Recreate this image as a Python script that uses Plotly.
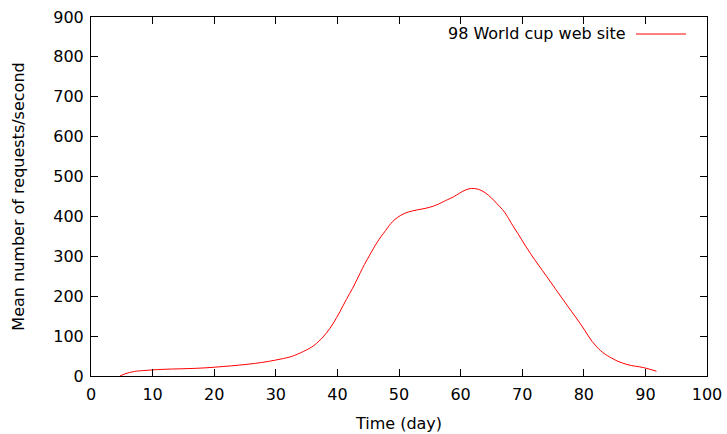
import plotly.graph_objects as go

days = [4.7, 6.3, 9.7, 20, 30, 34, 37.5, 42, 44.8, 47.5, 50.2, 55.6, 58.3, 62.3, 66.4, 68.6, 71.3, 74, 76.7, 79.4, 82.1, 84.5, 87, 89.7, 91.8]
rate = [0, 9, 15, 22, 40, 58, 95, 207, 291, 358, 402, 426, 445, 470, 424, 374, 308, 249, 190, 132, 73, 45, 29, 21, 12]

series_name = "98 World cup web site"
x_ticks = list(range(0, 101, 10))
y_ticks = list(range(0, 901, 100))

font = dict(family="DejaVu Sans", size=16, color="black")

fig = go.Figure()
fig.add_trace(go.Scatter(x=days, y=rate, mode="lines", name=series_name,
                         line=dict(color="red", width=1, shape="spline", smoothing=1.2),
                         showlegend=False))

axis_common = dict(showline=True, linecolor="black", linewidth=1, mirror="ticks",
                   ticks="inside", ticklen=7, tickwidth=1, tickcolor="black",
                   showgrid=False, zeroline=False, tickfont=font, automargin=False)

fig.update_layout(
    width=727, height=434,
    margin=dict(l=91, r=20, t=17, b=58),
    plot_bgcolor="white", paper_bgcolor="white",
    font=font,
    xaxis=dict(range=[0, 100], tickvals=x_ticks, ticklabelstandoff=4,
               title=dict(text="Time (day)", font=font, standoff=14), **axis_common),
    yaxis=dict(range=[0, 900], tickvals=y_ticks, ticklabelstandoff=3,
               title=dict(text="Mean number of requests/second", font=font, standoff=24), **axis_common),
)

fig.add_annotation(text=series_name, xref="paper", yref="paper", x=(628-91)/616, y=(376-34)/359,
                   xanchor="right", yanchor="middle", showarrow=False, font=font)
fig.add_shape(type="line", xref="paper", yref="paper", x0=(636-91)/616, x1=(686-91)/616,
              y0=(376-34)/359, y1=(376-34)/359, line=dict(color="red", width=1))

fig.write_html("out.html")
